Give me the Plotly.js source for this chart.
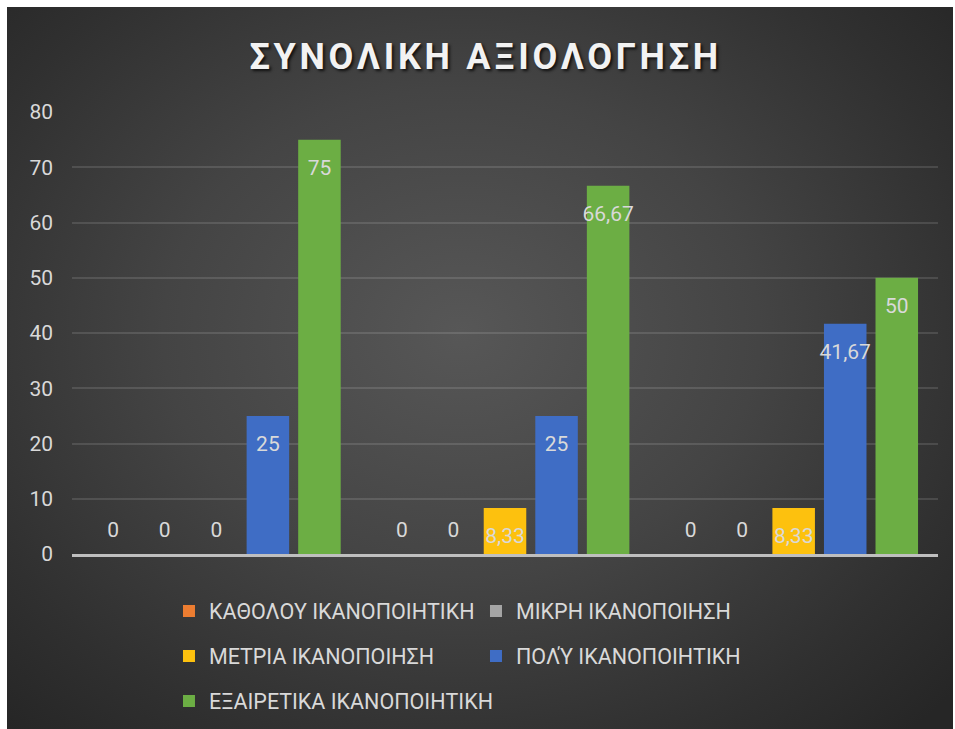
<!DOCTYPE html>
<html>
<head>
<meta charset="utf-8">
<script src="https://cdn.plot.ly/plotly-3.0.1.min.js"></script>
<style>
  html, body { margin: 0; padding: 0; background: #ffffff; }
  #frame {
    position: absolute; left: 7px; top: 7px; width: 946px; height: 722px;
    background: radial-gradient(ellipse 70% 75% at 48% 45%, #575757 0%, #444444 45%, #303030 80%, #262626 100%);
  }
  #chart { position: absolute; left: 0; top: 0; width: 946px; height: 722px; }
  .gtitle { letter-spacing: 3.7px; }
</style>
</head>
<body>
<div id="frame"><div id="chart"></div></div>
<script>
// ---- data ----
const categories = ['1', '2', '3'];
const seriesNames = [
  'ΚΑΘΟΛΟΥ ΙΚΑΝΟΠΟΙΗΤΙΚΗ',
  'ΜΙΚΡΗ ΙΚΑΝΟΠΟΙΗΣΗ',
  'ΜΕΤΡΙΑ ΙΚΑΝΟΠΟΙΗΣΗ',
  'ΠΟΛΎ ΙΚΑΝΟΠΟΙΗΤΙΚΗ',
  'ΕΞΑΙΡΕΤΙΚΑ ΙΚΑΝΟΠΟΙΗΤΙΚΗ'
];
const katholou   = [0, 0, 0];
const mikri      = [0, 0, 0];
const metria     = [0, 8.33, 8.33];
const poly       = [25, 25, 41.67];
const exairetika = [75, 66.67, 50];
const seriesValues = [katholou, mikri, metria, poly, exairetika];
const yTicks = [0, 10, 20, 30, 40, 50, 60, 70, 80];
const titleText = 'ΣΥΝΟΛΙΚΗ ΑΞΙΟΛΟΓΗΣΗ';

// ---- styles ----
const colors = ['#ED7D31', '#A5A5A5', '#FDC10E', '#3F6DC5', '#6CAE44'];
const legendIds = ['legend', 'legend', 'legend2', 'legend2', 'legend3'];
const FONT = 'Roboto, "Noto Sans", sans-serif';
const labelColor = '#d9d9d9';

const fmt = v => String(v).replace('.', ',');

const traces = [];
seriesValues.forEach((vals, i) => {
  traces.push({
    type: 'bar',
    name: seriesNames[i],
    x: categories,
    y: vals,
    marker: { color: colors[i], line: { width: 0 } },
    legend: legendIds[i],
    hoverinfo: 'skip'
  });
});
seriesValues.forEach((vals, i) => {
  traces.push({
    type: 'scatter',
    mode: 'markers+text',
    orientation: 'v',
    x: categories,
    y: vals,
    text: vals.map(fmt),
    textposition: vals.map(v => v === 0 ? 'top center' : 'bottom center'),
    textfont: { family: FONT, size: 21, color: labelColor },
    marker: { color: 'rgba(0,0,0,0)', size: vals.map(v => v === 0 ? 17 : 29), line: { width: 0 } },
    showlegend: false,
    hoverinfo: 'skip',
    cliponaxis: false
  });
});

const legendBase = {
  orientation: 'h',
  entrywidth: 262,
  entrywidthmode: 'pixels',
  x: 0.112,
  xanchor: 'left',
  yanchor: 'middle',
  bgcolor: 'rgba(0,0,0,0)',
  font: { family: FONT, size: 21.5, color: labelColor },
  itemclick: false,
  itemdoubleclick: false
};

const layout = {
  width: 946,
  height: 722,
  paper_bgcolor: 'rgba(0,0,0,0)',
  plot_bgcolor: 'rgba(0,0,0,0)',
  margin: { l: 65, r: 15, t: 105, b: 175, autoexpand: false },
  separators: ',.',
  barmode: 'group',
  bargap: 0.107,
  bargroupgap: 0.175,
  scattermode: 'group',
  scattergap: 0.107,
  title: {
    text: titleText,
    x: 0.506,
    xanchor: 'center',
    xref: 'container',
    yref: 'container',
    y: 0.931,
    yanchor: 'middle',
    font: { family: FONT, size: 36, weight: 700, color: '#f2f2f2', shadow: '2px 2px 3px rgba(0,0,0,0.75)' }
  },
  xaxis: {
    type: 'category',
    showticklabels: false,
    showgrid: false,
    showline: true,
    linecolor: '#bfbfbf',
    linewidth: 2.5,
    ticks: '',
    fixedrange: true
  },
  yaxis: {
    range: [0, 80],
    tickvals: yTicks,
    ticktext: yTicks.map(String),
    showgrid: true,
    gridcolor: 'rgba(255,255,255,0.12)',
    gridwidth: 1.5,
    zeroline: false,
    showline: false,
    ticks: '',
    ticklabelstandoff: 18,
    tickfont: { family: FONT, size: 21, color: labelColor },
    fixedrange: true
  },
  legend: Object.assign({}, legendBase, { y: -0.129 }),
  legend2: Object.assign({}, legendBase, { y: -0.2308 }),
  legend3: Object.assign({}, legendBase, { y: -0.3325, entrywidth: 400 }),
  showlegend: true
};

Plotly.newPlot('chart', traces, layout, { displayModeBar: false, staticPlot: false });
</script>
</body>
</html>
